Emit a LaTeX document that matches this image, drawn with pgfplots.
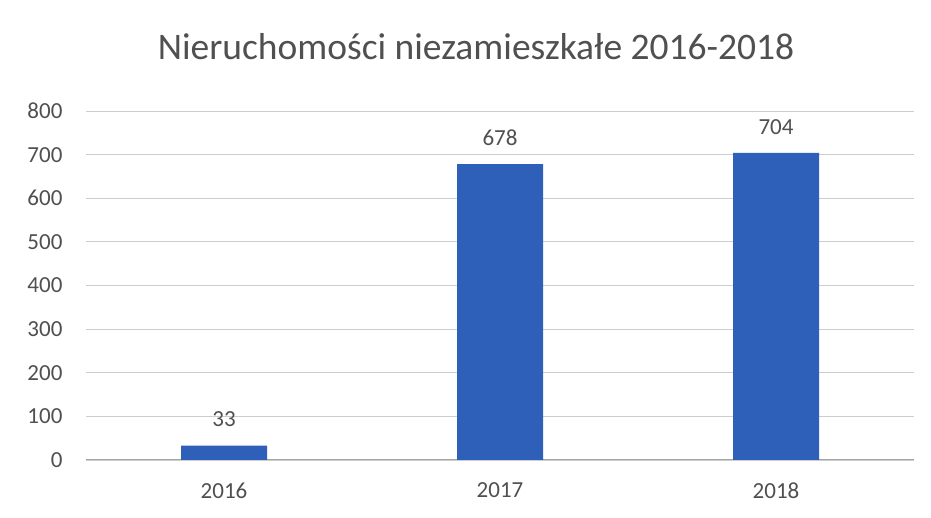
\documentclass[border=0pt]{standalone}
\usepackage{pgfplots}
\pgfplotsset{compat=1.18}
\usepackage{fontspec}
\setmainfont{Carlito}
\definecolor{barblue}{RGB}{46,96,185}
\definecolor{gridgray}{RGB}{205,205,205}
\definecolor{txtgray}{RGB}{80,80,80}
\begin{document}
\begin{tikzpicture}[x=1pt,y=1pt]
\useasboundingbox[fill=white] (0,0) rectangle (931,518);
\begin{axis}[
  at={(86pt,58pt)}, anchor=south west,
  scale only axis, width=828pt, height=349pt,
  xmin=-0.5, xmax=2.5, ymin=0, ymax=800,
  ytick={0,100,...,800},
  xtick=data, xticklabels={2016,2017,2018},
  axis x line*=bottom, axis y line*=left,
  y axis line style={draw=none},
  x axis line style={draw=gridgray!80!black, line width=1pt, -},
  major tick length=0pt,
  ymajorgrids, grid style={draw=gridgray, line width=0.8pt},
  yticklabel style={font=\fontsize{23}{23}\selectfont, text=txtgray, xshift=-20pt},
  xticklabel style={font=\fontsize{23}{23}\selectfont, text=txtgray, yshift=-19pt},
  /pgf/number format/assume math mode=true,
  ybar, bar width=86pt,
  nodes near coords,
  every node near coord/.append style={font=\fontsize{23}{23}\selectfont, text=txtgray, yshift=15pt},
  title={Nieruchomości niezamieszkałe 2016-2018},
  title style={font=\fontsize{37.5}{37.5}\selectfont, text=txtgray, yshift=42pt, xshift=-24pt},
  clip=false,
]
\addplot[fill=barblue, draw=none] coordinates {(0,33) (1,678) (2,704)};
\end{axis}
\end{tikzpicture}
\end{document}
